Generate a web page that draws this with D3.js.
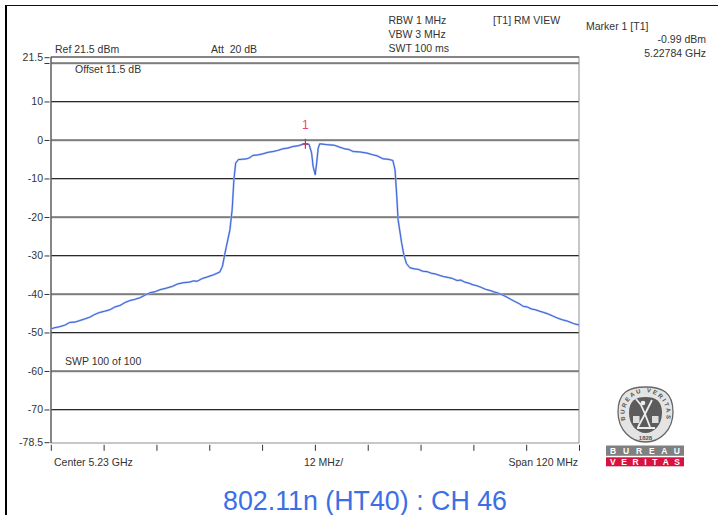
<!DOCTYPE html>
<html><head><meta charset="utf-8">
<script src="https://cdn.jsdelivr.net/npm/d3@7"></script>
<style>
html,body{margin:0;padding:0;background:#fff}
svg{display:block}
text{font-family:"Liberation Sans",Arial,sans-serif;font-size:10.5px;fill:#333}
</style></head><body>
<svg id="c" width="718" height="515"></svg>
<script>
const freqOffsetMHz=[-60,-59.1,-58,-56.8,-55.7,-54.5,-53.4,-52.3,-51.1,-50,-48.9,-47.8,-46.6,-45.5,-44.3,-43.1,-42,-40.9,-39.8,-38.6,-37.5,-36.3,-35.2,-33.8,-32.3,-31.2,-30,-28.4,-27.6,-26.8,-25.6,-24.5,-23,-21.6,-21,-20.5,-20.1,-19.3,-18.8,-18.4,-18,-17.4,-16.4,-15.5,-14.8,-14.1,-13,-11.8,-10.6,-9.5,-8.4,-7.3,-6.1,-5,-3.8,-2.7,-2.16,-1.3,-0.75,-0.4,0.07,0.4,0.75,1.1,2.6,4.5,5.7,6.8,7.8,8.7,10.2,11.8,13,14.1,15.5,16.6,17.7,18.2,18.6,18.9,19.7,20.2,20.8,21.6,22.7,23.5,24.5,25.5,26.4,27.4,28.4,29.3,30.3,31.3,32.3,33.2,34,35,35.9,36.9,37.8,38.8,39.8,40.8,41.7,42.7,43.6,44.5,45.5,46.4,47.3,48.3,49.2,50.1,51.1,52,53,54,55,56.2,57.5,58.8,60];
const traceDbm=[-49.1,-48.75,-48.5,-48.1,-47.4,-47.3,-46.9,-46.5,-46,-45.3,-44.8,-44.5,-44.1,-43.4,-43,-42.2,-41.7,-41.4,-41,-40.3,-39.7,-39.4,-38.9,-38.5,-38,-37.4,-37.1,-36.9,-36.6,-36.7,-36,-35.6,-35,-34.3,-32.8,-29.8,-27.6,-23.3,-18.1,-10.3,-6,-5.1,-5,-4.9,-4.6,-4,-3.9,-3.6,-3.2,-3,-2.7,-2.3,-2.1,-1.7,-1.5,-1.1,-0.99,-1.2,-3.4,-6.9,-9,-6,-2.1,-1,-1.2,-1.4,-1.9,-2.3,-2.5,-3,-3.1,-3.4,-3.8,-4.1,-4.9,-5,-5.3,-7.7,-14.6,-20.7,-26.7,-29.8,-32.1,-33.2,-33.5,-33.6,-34.1,-34.2,-34.6,-34.8,-35.2,-35.5,-35.7,-36,-36.5,-36.4,-36.9,-37.2,-37.6,-37.9,-38.3,-38.8,-39.1,-39.5,-39.8,-40.3,-40.8,-41.4,-42,-42.5,-43.2,-43.4,-43.9,-44.1,-44.5,-44.8,-45.2,-45.7,-46.2,-46.7,-47.1,-47.7,-48.05];
const yTickValues=[21.5,20,10,0,-10,-20,-30,-40,-50,-60,-70,-78.5];
const yLabelValues=[21.5,10,0,-10,-20,-30,-40,-50,-60,-70,-78.5];
const gridValues=[20,10,0,-10,-20,-30,-40,-50,-60,-70];
const xTickValues=[-60,-48,-36,-24,-12,0,12,24,36,48,60];
const markerOffsetMHz=-2.16, markerDbm=-0.99;

const svg=d3.select('#c');
const x=d3.scaleLinear().domain([-60,60]).range([50.8,579]);
const y=d3.scaleLinear().domain([21.5,-78.5]).range([57.2,442.2]);

svg.append('line').attr('x1',6).attr('x2',6).attr('y1',5).attr('y2',515).attr('stroke','#000').attr('stroke-width',2);
svg.append('line').attr('x1',6).attr('x2',718).attr('y1',5.5).attr('y2',5.5).attr('stroke','#111').attr('stroke-width',1);

svg.append('g').selectAll('line').data(gridValues).join('line')
 .attr('x1',51).attr('x2',579).attr('y1',d=>y(d)+0.9).attr('y2',d=>y(d)+0.9).attr('stroke','#b5b5b5').attr('stroke-width',1);
svg.append('g').selectAll('line').data(gridValues).join('line')
 .attr('x1',51).attr('x2',579).attr('y1',d=>y(d)).attr('y2',d=>y(d)).attr('stroke','#2a2a2a').attr('stroke-width',1.1);

svg.append('rect').attr('x',51).attr('y',57).attr('width',528).attr('height',386).attr('fill','none').attr('stroke','#8f8f8f').attr('stroke-width',1);
svg.append('line').attr('x1',51).attr('x2',51).attr('y1',57).attr('y2',443).attr('stroke','#444').attr('stroke-width',1);
svg.append('line').attr('x1',51).attr('x2',579).attr('y1',57).attr('y2',57).attr('stroke','#444').attr('stroke-width',1);

const ya=svg.append('g').attr('transform','translate(49.5,0)')
 .call(d3.axisLeft(y).tickValues(yTickValues).tickSize(5).tickPadding(1.5).tickFormat(d=>yLabelValues.includes(d)?String(d):''));
ya.select('.domain').remove();
ya.selectAll('line').attr('stroke','#333');
ya.selectAll('text').style('font-size','10.5px');
const xa=svg.append('g').attr('transform','translate(0,444.8)')
 .call(d3.axisBottom(x).tickValues(xTickValues).tickSize(6).tickFormat(''));
xa.select('.domain').remove();
xa.selectAll('line').attr('stroke','#333');

const line=d3.line().x((d,i)=>x(freqOffsetMHz[i])).y(d=>y(d));
svg.append('path').attr('d',line(traceDbm)).attr('fill','none').attr('stroke','#a9bdf0').attr('stroke-width',2).attr('stroke-linejoin','round');
svg.append('path').attr('d',line(traceDbm)).attr('fill','none').attr('stroke','#2c59d6').attr('stroke-width',0.9).attr('stroke-linejoin','round');

const mx=x(markerOffsetMHz), my=y(markerDbm);
svg.append('path').attr('d',`M${mx-3},${my}H${mx+3}M${mx},${my-5}V${my+5}`).attr('stroke','#f0203a').attr('stroke-width',1.2).attr('fill','none');
svg.append('text').attr('x',mx).attr('y',my-15).attr('text-anchor','middle').style('font-size','12px').style('fill','#f0407a').text('1');

const T=(tx,ty,s,a)=>svg.append('text').attr('x',tx).attr('y',ty).attr('text-anchor',a||'start').attr('xml:space','preserve').text(s);
T(55,53,'Ref 21.5 dBm');
T(211,53,'Att  20 dB');
T(75,73,'Offset 11.5 dB');
T(65,365,'SWP 100 of 100');
T(388.5,24,'RBW 1 MHz');
T(388.5,38,'VBW 3 MHz');
T(388.5,52,'SWT 100 ms');
T(493,24,'[T1] RM VIEW');
T(586,30,'Marker 1 [T1]');
T(706,43,'-0.99 dBm','end');
T(706,57,'5.22784 GHz','end');
T(54,466,'Center 5.23 GHz');
T(304,466,'12 MHz/');
T(578,466,'Span 120 MHz','end');

svg.append('text').attr('x',365).attr('y',510).attr('text-anchor','middle').style('font-size','26.8px').style('fill','#3b6fe6').text('802.11n (HT40) : CH 46');

const L=svg.append('g');
L.append('path').attr('d','M645.5,387 C662,387 673,392 673,412 C673,430 660,442 645.5,442 C631,442 618,430 618,412 C618,392 629,387 645.5,387Z').attr('fill','#e4e4e4').attr('stroke','#666').attr('stroke-width',1.3);
L.append('path').attr('d','M645.5,397 C656,397 662,401 662,413 C662,425 654,433 645.5,433 C637,433 629,425 629,413 C629,401 635,397 645.5,397Z').attr('fill','#5c5c5c');
L.append('path').attr('id','arcTop').attr('d','M625.5,421 A21,22 0 1 1 665.5,421').attr('fill','none');
L.append('text').style('font-size','6px').style('font-weight','bold').style('fill','#555').append('textPath').attr('href','#arcTop').attr('startOffset','50%').attr('text-anchor','middle').attr('letter-spacing','1.9').text('BUREAU VERITAS');
L.append('text').attr('x',645.5).attr('y',440).attr('text-anchor','middle').style('font-size','6px').style('font-weight','bold').style('fill','#555').text('1828');
L.append('path').attr('d','M638,427 L645,414 L641,405 M645,414 L652,400 M645,414 L650,427 M641,405 L636,399 M637,428 H655').attr('stroke','#eee').attr('stroke-width',1.8).attr('fill','none');
L.append('circle').attr('cx',643).attr('cy',403).attr('r',2.3).attr('fill','#eee');
L.append('rect').attr('x',633).attr('y',416).attr('width',6.5).attr('height',7).attr('fill','#ddd');
L.append('rect').attr('x',652).attr('y',416).attr('width',6.5).attr('height',7).attr('fill','#ddd');
L.append('rect').attr('x',606).attr('y',445.5).attr('width',78).attr('height',10.3).attr('fill','#808080');
L.append('rect').attr('x',606).attr('y',457.3).attr('width',78).attr('height',9).attr('fill','#d6123f');
[['B U R E A U',454],['V E R I T A S',465]].forEach(([s,b])=>{
 L.append('text').attr('x',645).attr('y',b).attr('text-anchor','middle').attr('textLength',70).style('font-size','8.5px').style('font-weight','bold').style('fill','#fff').text(s);
});
</script></body></html>
